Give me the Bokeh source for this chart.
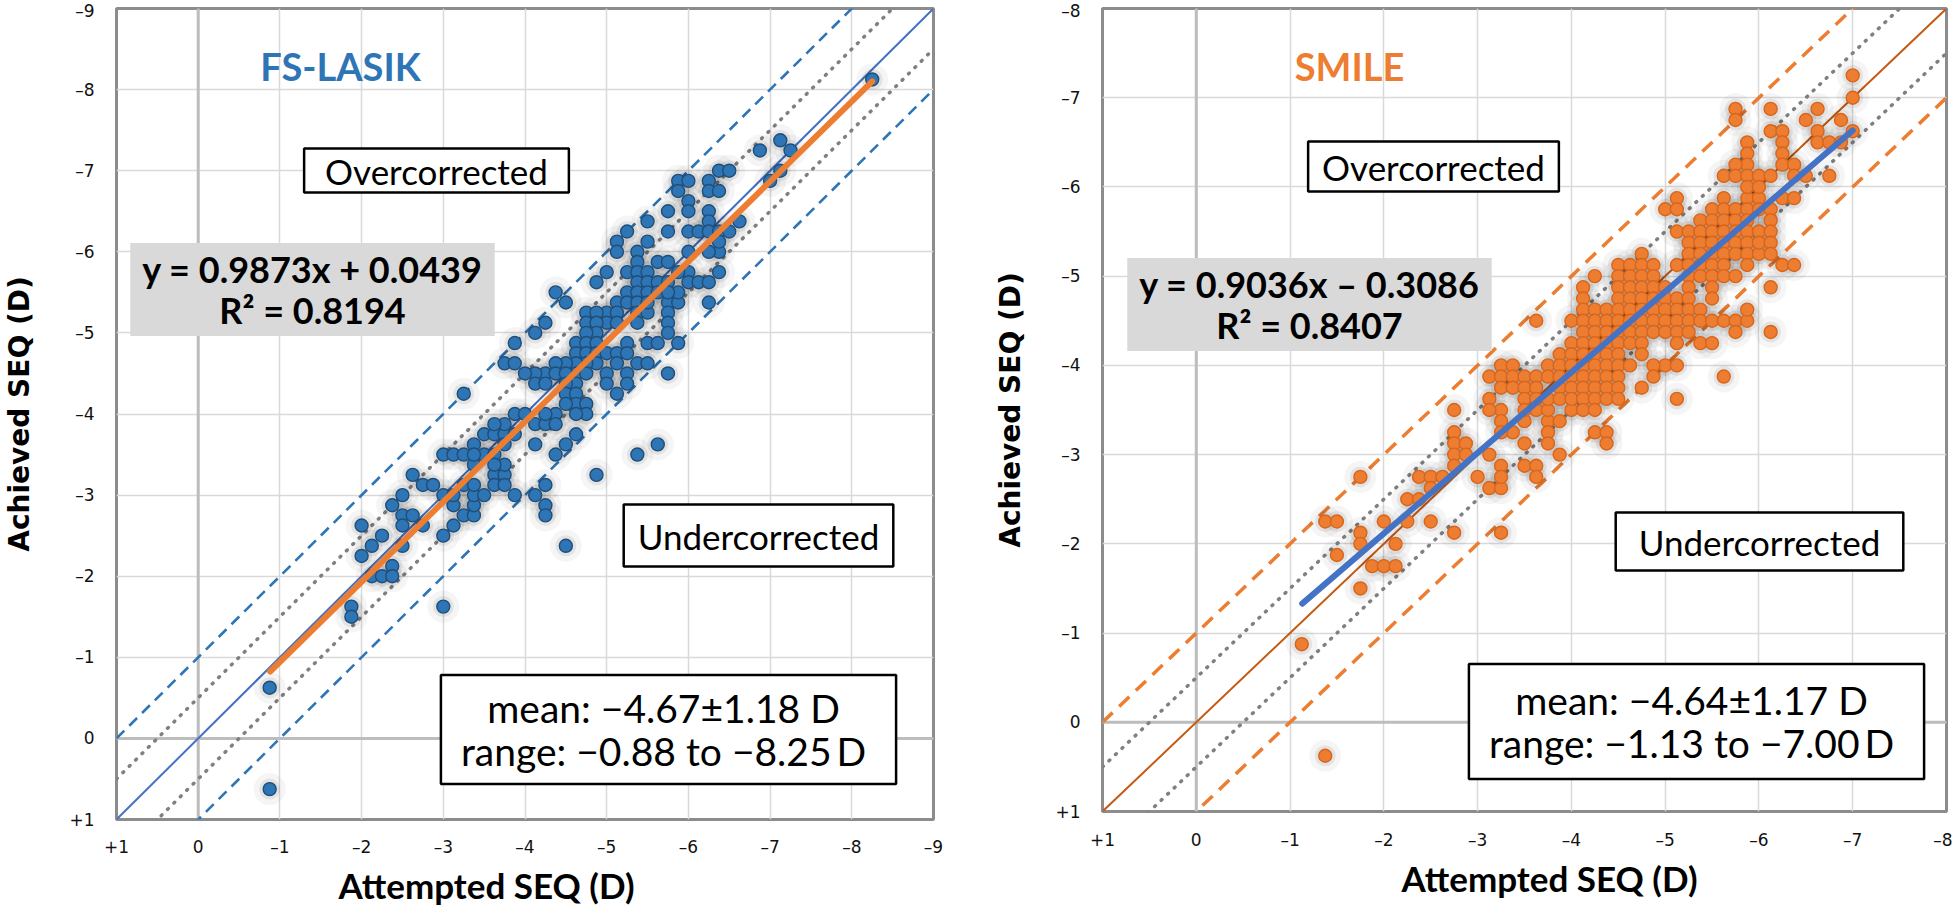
import math
from bokeh.plotting import figure
from bokeh.layouts import row
from bokeh.models import Range1d, FixedTicker, Span, Label, Title
from bokeh.embed import file_html
from bokeh.resources import INLINE

# ------------------------------------------------------------------ data
# FS-LASIK: (attempted SEQ, achieved SEQ) in D
lasik_points = [
    (-0.875, -0.625), (-0.875, 0.625), (-1.875, -1.625), (-1.875, -1.5), (-3.0, -1.625),
    (-2.0, -2.625), (-2.25, -2.5), (-2.125, -2.375), (-2.0, -2.25), (-2.375, -2.125),
    (-2.125, -2.0), (-2.25, -2.0), (-2.375, -2.0), (-2.5, -2.375), (-2.375, -2.875),
    (-2.5, -2.75), (-2.625, -2.75), (-2.5, -2.625), (-2.75, -2.625), (-2.5, -3.0),
    (-2.625, -3.25), (-2.75, -3.125), (-2.875, -3.125), (-3.0, -2.5), (-3.125, -2.625),
    (-3.125, -2.875), (-3.0, -3.0), (-3.25, -2.75), (-3.375, -2.75), (-3.375, -2.875),
    (-3.375, -3.0), (-3.5, -3.0), (-3.25, -3.125), (-3.375, -3.125), (-3.625, -3.25),
    (-3.75, -3.25), (-3.625, -3.125), (-3.75, -3.125), (-3.75, -3.375), (-3.875, -3.0),
    (-4.125, -3.0), (-4.25, -3.125), (-4.25, -2.875), (-4.25, -2.75), (-3.0, -3.5),
    (-3.125, -3.5), (-3.25, -3.5), (-3.375, -3.375), (-3.5, -3.5), (-3.625, -3.5),
    (-4.125, -3.625), (-3.375, -3.625), (-3.5, -3.75), (-3.625, -3.75), (-3.75, -3.75),
    (-3.875, -3.75), (-3.75, -3.625), (-4.875, -3.25), (-5.375, -3.5), (-4.5, -2.375),
    (-4.375, -3.5), (-5.75, -4.5), (-6.25, -5.375), (-6.375, -5.75), (-4.375, -5.5),
    (-4.5, -5.375), (-4.125, -5.0), (-4.25, -5.125), (-3.875, -4.875), (-3.25, -4.25),
    (-3.75, -4.625), (-3.875, -4.625),
    (-8.25, -8.125), (-6.875, -7.25), (-7.125, -7.375), (-7.25, -7.25), (-7.125, -7.0),
    (-7.0, -6.875), (-6.375, -7.0), (-6.5, -7.0), (-5.875, -6.875), (-6.0, -6.875),
    (-5.875, -6.75), (-6.25, -6.875), (-6.25, -6.75), (-6.375, -6.75), (-6.0, -6.625),
    (-6.0, -6.5), (-5.75, -6.5), (-6.25, -6.5), (-6.25, -6.375), (-5.5, -6.375),
    (-5.25, -6.25), (-5.75, -6.25), (-6.0, -6.25), (-6.125, -6.25), (-6.25, -6.25),
    (-6.375, -6.25), (-6.5, -6.25), (-6.625, -6.375), (-5.125, -6.125), (-5.5, -6.125),
    (-5.125, -6.0), (-5.375, -6.0), (-6.0, -6.0), (-6.375, -6.0), (-6.375, -6.125),
    (-5.0, -5.75), (-5.25, -5.75), (-5.375, -5.875), (-5.375, -5.75), (-5.5, -5.75),
    (-5.625, -5.875), (-5.75, -5.875), (-6.0, -5.75), (-6.375, -5.75), (-5.375, -5.625),
    (-5.5, -5.625), (-5.625, -5.625), (-5.75, -5.625), (-6.0, -5.625), (-6.125, -5.625),
    (-6.25, -5.625), (-5.25, -5.5), (-5.375, -5.5), (-5.5, -5.5), (-5.625, -5.5),
    (-5.125, -5.375), (-5.25, -5.375), (-5.375, -5.375), (-5.75, -5.375), (-5.875, -5.375),
    (-6.25, -5.375), (-5.0, -5.25), (-5.125, -5.25), (-5.375, -5.25), (-5.5, -5.25),
    (-5.75, -5.25), (-5.0, -5.125), (-5.125, -5.125), (-5.375, -5.125), (-5.75, -5.125),
    (-5.75, -5.0), (-5.25, -4.875), (-5.5, -4.875), (-5.625, -4.875), (-5.875, -4.875),
    (-6.0, -6.625), (-6.25, -6.5), (-5.75, -6.5), (-5.5, -6.375), (-6.25, -6.375),
    (-5.25, -6.25), (-5.5, -6.125), (-5.375, -5.875), (-5.875, -5.75), (-5.875, -5.5),
    (-5.75, -5.5), (-5.0, -5.75), (-4.875, -5.625), (-4.75, -5.25), (-4.75, -5.125),
    (-4.875, -5.25), (-5.0, -5.25), (-4.875, -5.125), (-4.875, -5.0), (-4.75, -5.0),
    (-4.625, -4.875), (-4.625, -4.75), (-4.75, -4.875), (-4.75, -4.75), (-4.875, -4.875),
    (-4.875, -4.75), (-4.875, -4.625), (-4.75, -4.625), (-4.625, -4.625), (-4.625, -4.5),
    (-4.75, -4.5), (-4.625, -4.375), (-4.5, -4.625), (-4.375, -4.625), (-4.25, -4.5),
    (-4.125, -4.5), (-4.0, -4.5), (-4.125, -4.375), (-4.25, -4.375), (-4.375, -4.5),
    (-4.5, -4.5), (-4.5, -4.375), (-4.5, -4.25), (-4.625, -4.25), (-4.625, -4.125),
    (-4.75, -4.125), (-4.5, -4.125), (-4.75, -4.0), (-4.625, -4.0), (-4.375, -4.0),
    (-5.0, -4.75), (-5.0, -4.5), (-5.0, -4.375), (-5.125, -4.25), (-5.25, -4.5),
    (-5.25, -4.375), (-5.125, -4.75), (-5.125, -4.625), (-5.25, -4.75), (-5.375, -4.625),
    (-5.5, -4.625), (-4.375, -5.5), (-4.25, -5.125), (-4.125, -5.0), (-3.875, -4.875),
    (-3.75, -4.625), (-3.875, -4.0), (-4.0, -4.0), (-4.125, -3.875), (-4.25, -3.875),
    (-4.375, -3.875), (-4.25, -4.0), (-3.75, -3.875), (-3.625, -3.875), (-3.5, -3.75),
    (-3.625, -3.75), (-3.375, -3.5), (-3.625, -3.375), (-3.75, -3.375), (-3.625, -3.25),
    (-3.875, -3.0), (-4.125, -3.625), (-4.375, -3.5), (-4.5, -3.625), (-4.625, -3.75),
    (-5.375, -3.5), (-5.625, -3.625), (-5.75, -4.5), (-4.875, -3.25), (-2.625, -3.25),
    (-2.75, -3.125), (-3.125, -3.0), (-3.375, -3.0), (-4.25, -2.875), (-4.25, -2.75),
    (-2.625, -2.75), (-3.25, -2.75), (-3.125, -2.875), (-3.5, -3.0), (-6.125, -6.25),
    (-6.25, -6.0), (-6.0, -5.75), (-5.125, -5.375), (-5.25, -5.375), (-5.5, -5.375),
    (-5.625, -5.875), (-5.625, -5.625), (-5.375, -5.625),
]

# SMILE: (attempted SEQ, achieved SEQ) in D
smile_points = [
    (-1.125, -0.875), (-1.375, 0.375), (-1.75, -1.5), (-1.75, -2.75), (-1.375, -2.25),
    (-1.5, -2.25), (-1.5, -1.875), (-1.75, -2.125), (-1.75, -2.0), (-2.0, -2.25),
    (-1.875, -1.75), (-2.0, -1.75), (-2.125, -1.75), (-2.125, -2.0), (-2.25, -2.25),
    (-2.5, -2.25), (-2.75, -2.125), (-3.25, -2.125), (-2.25, -2.5), (-2.375, -2.5),
    (-2.375, -2.75), (-2.5, -2.75), (-2.625, -2.75), (-2.5, -2.625), (-2.75, -3.25),
    (-2.75, -3.125), (-2.75, -3.0), (-2.75, -2.875), (-2.875, -3.125), (-2.875, -3.0),
    (-2.75, -3.5), (-3.0, -2.75), (-3.125, -3.0), (-3.125, -2.625), (-3.25, -2.625),
    (-3.25, -2.875), (-3.25, -2.75), (-3.5, -3.125), (-3.5, -2.875), (-3.625, -2.875),
    (-3.625, -2.75), (-3.875, -3.0), (-3.75, -3.375), (-3.75, -3.25), (-3.75, -3.125),
    (-3.875, -3.375), (-3.5, -3.375), (-3.125, -3.625), (-3.25, -3.5), (-3.25, -3.375),
    (-3.375, -3.25), (-3.625, -3.5), (-3.75, -3.5), (-4.0, -3.5),
    # middle block
    (-5.125, -5.875), (-5.625, -5.875), (-5.875, -5.875), (-6.0, -5.875),
    (-5.0, -5.75), (-5.125, -5.75), (-5.5, -5.75), (-5.625, -5.75), (-5.75, -5.75),
    (-5.875, -5.75), (-6.0, -5.75),
    (-5.375, -5.625), (-5.5, -5.625), (-5.625, -5.625), (-5.75, -5.625), (-5.875, -5.625),
    (-5.125, -5.5), (-5.25, -5.5), (-5.375, -5.5), (-5.5, -5.5), (-5.625, -5.5),
    (-5.75, -5.5), (-5.875, -5.5), (-6.0, -5.5),
    (-5.25, -5.375), (-5.375, -5.375), (-5.5, -5.375), (-5.625, -5.375), (-5.75, -5.375),
    (-5.875, -5.375),
    (-4.75, -5.25), (-5.25, -5.25), (-5.375, -5.25), (-5.5, -5.25), (-5.625, -5.25),
    (-5.75, -5.25), (-5.875, -5.25), (-6.0, -5.25),
    (-4.5, -5.125), (-4.625, -5.125), (-4.75, -5.125), (-4.875, -5.125), (-5.125, -5.125),
    (-5.25, -5.125), (-5.375, -5.125), (-5.5, -5.125), (-5.625, -5.125), (-5.875, -5.125),
    (-4.25, -5.0), (-4.5, -5.0), (-4.625, -5.0), (-4.75, -5.0), (-4.875, -5.0),
    (-5.25, -5.0), (-5.375, -5.0), (-5.5, -5.0), (-5.625, -5.0), (-5.75, -5.0),
    (-4.125, -4.875), (-4.5, -4.875), (-4.625, -4.875), (-4.75, -4.875), (-4.875, -4.875),
    (-5.0, -4.875), (-5.25, -4.875), (-5.5, -4.875),
    (-4.125, -4.75), (-4.5, -4.75), (-4.625, -4.75), (-4.75, -4.75), (-4.875, -4.75),
    (-5.0, -4.75), (-5.125, -4.75), (-5.25, -4.75), (-5.5, -4.75),
    # lower block
    (-4.125, -4.625), (-4.25, -4.625), (-4.375, -4.625), (-4.5, -4.625), (-4.625, -4.625),
    (-4.75, -4.625), (-4.875, -4.625), (-5.0, -4.625), (-5.125, -4.625), (-5.25, -4.625),
    (-5.375, -4.625),
    (-3.625, -4.5), (-4.0, -4.5), (-4.125, -4.5), (-4.25, -4.5), (-4.375, -4.5),
    (-4.5, -4.5), (-4.625, -4.5), (-4.75, -4.5), (-4.875, -4.5), (-5.0, -4.5),
    (-5.125, -4.5), (-5.25, -4.5), (-5.375, -4.5), (-5.5, -4.5), (-5.625, -4.5),
    (-5.75, -4.5), (-5.875, -4.5),
    (-4.125, -4.375), (-4.25, -4.375), (-4.375, -4.375), (-4.5, -4.375), (-4.625, -4.375),
    (-4.75, -4.375), (-4.875, -4.375), (-5.0, -4.375), (-5.125, -4.375), (-5.25, -4.375),
    (-5.75, -4.375),
    (-4.0, -4.25), (-4.125, -4.25), (-4.25, -4.25), (-4.375, -4.25), (-4.5, -4.25),
    (-4.625, -4.25), (-4.75, -4.25), (-5.125, -4.25), (-5.375, -4.25), (-5.5, -4.25),
    (-3.875, -4.125), (-4.0, -4.125), (-4.125, -4.125), (-4.25, -4.125), (-4.375, -4.125),
    (-4.5, -4.125), (-4.75, -4.125),
    (-3.25, -4.0), (-3.375, -4.0), (-3.75, -4.0), (-3.875, -4.0), (-4.0, -4.0),
    (-4.125, -4.0), (-4.25, -4.0), (-4.375, -4.0), (-4.5, -4.0), (-4.625, -4.0),
    (-5.0, -4.0), (-5.125, -4.0), (-4.875, -4.0),
    (-3.125, -3.875), (-3.25, -3.875), (-3.375, -3.875), (-3.5, -3.875), (-3.625, -3.875),
    (-3.75, -3.875), (-3.875, -3.875), (-4.0, -3.875), (-4.125, -3.875), (-4.25, -3.875),
    (-4.375, -3.875), (-4.5, -3.875), (-4.875, -3.875), (-5.625, -3.875),
    (-3.25, -3.75), (-3.375, -3.75), (-3.5, -3.75), (-3.625, -3.75), (-3.875, -3.75),
    (-4.0, -3.75), (-4.125, -3.75), (-4.25, -3.75), (-4.375, -3.75), (-4.5, -3.75),
    (-4.75, -3.75),
    (-3.125, -3.625), (-3.5, -3.625), (-3.625, -3.625), (-3.75, -3.625), (-3.875, -3.625),
    (-4.0, -3.625), (-4.125, -3.625), (-4.25, -3.625), (-4.375, -3.625), (-4.5, -3.625),
    (-5.125, -3.625),
    (-2.75, -3.5), (-3.125, -3.5), (-3.25, -3.5), (-3.5, -3.5), (-3.625, -3.5),
    (-3.75, -3.5), (-4.0, -3.5), (-4.125, -3.5), (-4.25, -3.5),
    (-3.25, -3.375), (-3.5, -3.375), (-3.75, -3.375),
    (-2.75, -3.25), (-3.25, -3.25), (-3.375, -3.25), (-3.75, -3.25), (-4.25, -3.25),
    (-4.375, -3.25),
    (-2.75, -3.125), (-2.875, -3.125), (-3.5, -3.125), (-3.75, -3.125), (-4.375, -3.125),
    (-2.75, -3.0), (-2.875, -3.0), (-3.125, -3.0), (-3.875, -3.0),
    (-2.75, -2.875), (-3.25, -2.875), (-3.5, -2.875), (-3.625, -2.875),
    (-3.0, -2.75), (-3.25, -2.75), (-3.625, -2.75),
    # upper block
    (-7.0, -7.25), (-7.0, -7.0), (-7.0, -6.625), (-5.75, -6.875), (-5.75, -6.75),
    (-6.125, -6.875), (-6.625, -6.875), (-6.5, -6.75), (-6.875, -6.75), (-6.125, -6.625),
    (-6.25, -6.625), (-6.625, -6.625), (-6.625, -6.5), (-6.75, -6.5), (-6.875, -6.5),
    (-6.25, -6.5), (-6.25, -6.375), (-6.25, -6.25), (-5.875, -6.5), (-5.875, -6.375),
    (-5.875, -6.25), (-5.75, -6.25), (-6.375, -6.25),
    (-5.625, -6.125), (-5.75, -6.125), (-5.875, -6.125), (-6.0, -6.125), (-6.125, -6.125),
    (-6.375, -6.125), (-6.5, -6.125), (-6.75, -6.125),
    (-5.875, -6.0), (-6.0, -6.0), (-6.25, -5.875), (-6.375, -5.875), (-6.125, -5.75),
    (-6.125, -5.625), (-6.125, -5.5), (-6.0, -5.375), (-6.125, -5.375), (-6.125, -5.25),
    (-6.25, -5.125), (-6.375, -5.125), (-6.125, -4.875), (-6.125, -4.375),
    (-5.875, -4.625), (-5.5, -5.0),
]

lasik_fit = [0.9873, 0.0439, 0.8194]      # slope, intercept, R²
lasik_span = [-0.88, -8.25]                # attempted range (D)
lasik_stats = [-4.67, 1.18]                # mean, SD (D)
smile_fit = [0.9036, -0.3086, 0.8407]
smile_span = [-1.13, -7.00]
smile_stats = [-4.64, 1.17]

band_offsets = [-1.0, -0.5, 0.0, 0.5, 1.0]  # reference lines y = x + offset

# ------------------------------------------------------------------ helpers
def uniq(pts):
    return list(dict.fromkeys(pts))


def fmt_tick(t):
    if t > 0:
        return "+%d" % t
    if t == 0:
        return "0"
    return "\u2013%d" % abs(t)


def fmt_signed(v):
    return ("\u2212%.2f" % abs(v)) if v < 0 else ("%.2f" % v)


GRID = "#d9d9d9"


def make_panel(g, pts, fit, span, stats, name, c_pts, c_pts_line, c_ident, c_dash,
               c_reg, dash, dash_w, boxes, titles):
    xmin = g["lo"]
    ticks = list(range(1, xmin - 1, -1))
    p = figure(frame_width=g["fw"], frame_height=g["fh"],
               x_range=Range1d(1, xmin), y_range=Range1d(1, xmin),
               min_border_left=g["bl"], min_border_right=g["br"],
               min_border_top=g["bt"], min_border_bottom=g["bb"],
               output_backend="svg", toolbar_location=None)
    p.background_fill_color = "white"
    p.border_fill_color = "white"
    p.outline_line_color = "#8c8c8c"
    p.outline_line_width = 3

    for ax, standoff in ((p.xaxis[0], g["xs"]), (p.yaxis[0], g["ys"])):
        ax.ticker = FixedTicker(ticks=ticks)
        ax.major_label_overrides = {t: fmt_tick(t) for t in ticks}
        ax.major_tick_line_color = None
        ax.minor_tick_line_color = None
        ax.major_tick_out = 0
        ax.major_tick_in = 0
        ax.axis_line_color = None
        ax.major_label_text_font = "DejaVu Sans"
        ax.major_label_text_font_size = "17px"
        ax.major_label_text_color = "#111111"
        ax.major_label_standoff = standoff
    for gr in (p.xgrid[0], p.ygrid[0]):
        gr.ticker = FixedTicker(ticks=ticks)
        gr.grid_line_color = GRID
        gr.grid_line_width = 1.5

    # y-axis title
    p.yaxis.axis_label = "Achieved SEQ (D)"
    p.yaxis.axis_label_text_font = "DejaVu Sans"
    p.yaxis.axis_label_text_font_style = "bold"
    p.yaxis.axis_label_text_font_size = "28px"
    p.yaxis.axis_label_text_color = "black"
    p.yaxis.axis_label_standoff = g["yts"]

    # x-axis title, placed along the axis as in the original
    p.add_layout(Title(text="Attempted SEQ (D)", align="left", offset=g["xto"],
                       text_font="Lato", text_font_style="bold", text_font_size="35px",
                       text_color="black", standoff=g["xts"]), "below")

    for dim in ("height", "width"):
        p.add_layout(Span(location=0, dimension=dim, line_color="#bdbdbd",
                          line_width=3, level="underlay"))

    ends = [1, xmin]
    for off in band_offsets:
        ys = [e + off for e in ends]
        if off == 0:
            p.line(ends, ys, line_color=c_ident, line_width=2)
        elif abs(off) == 0.5:
            p.line(ends, ys, line_color="#808080", line_width=3.5,
                   line_dash="1 8", line_cap="round")
        else:
            p.line(ends, ys, line_color=c_dash, line_width=dash_w, line_dash=dash)

    pts = uniq(pts)
    xs = [a for a, b in pts]
    ys = [b for a, b in pts]
    # soft grey glow behind the markers
    p.scatter(xs, ys, size=32, fill_color="black", fill_alpha=0.04, line_color=None)
    p.scatter(xs, ys, size=21, fill_color="black", fill_alpha=0.07, line_color=None)
    p.scatter(xs, ys, size=13, fill_color=c_pts, line_color=c_pts_line, line_width=1.4)

    rx = list(span)
    ry = [fit[0] * v + fit[1] for v in rx]
    p.line(rx, ry, line_color=c_reg, line_width=6, line_cap="round")

    def dpos(px, py):
        x = 1 - (px - g["fx"]) / g["fw"] * (1 - xmin)
        y = xmin + (py - g["fy"]) / g["fh"] * (1 - xmin)
        return x, y

    sign = "+" if fit[1] >= 0 else "\u2013"
    eq = "y = %.4fx %s %.4f\nR\u00b2 = %.4f" % (fit[0], sign, abs(fit[1]), fit[2])
    st = "mean:  %s\u00b1%.2f D\nrange:  %s to %s\u2009D" % (
        fmt_signed(stats[0]), stats[1], fmt_signed(span[0]), fmt_signed(span[1]))

    specs = [
        ("over", "Overcorrected", dict(text_font="Lato", text_font_size="35px",
                                        background_fill_color="white",
                                        border_line_color="black", border_line_width=2.5)),
        ("under", "Undercorrected", dict(text_font="Lato", text_font_size="35px",
                                          background_fill_color="white",
                                          border_line_color="black", border_line_width=2.5)),
        ("eq", eq, dict(text_font="Lato", text_font_style="bold", text_font_size="36px",
                        background_fill_color="#d9d9d9", text_line_height=0.93)),
        ("stats", st, dict(text_font="Lato", text_font_size="39px",
                           background_fill_color="white", text_line_height=0.93,
                           border_line_color="black", border_line_width=2.5)),
    ]
    for key, text, kw in specs:
        (px, py), pad = boxes[key]
        x, y = dpos(px, py)
        p.add_layout(Label(x=x, y=y, text=text, text_align="center",
                           text_baseline="middle", text_color="black",
                           padding=pad, **kw))

    (px, py), col = titles["name"]
    x, y = dpos(px, py)
    p.add_layout(Label(x=x, y=y, text=name, text_align="center", text_baseline="middle",
                       text_font="Lato", text_font_style="bold", text_font_size="38px",
                       text_color=col))
    return p


# frame geometry (pixels of the page) and borders
left_geom = dict(lo=-9, fx=116, fy=10, fw=817, fh=811, bl=111, br=47, bt=8, bb=80,
                 xs=17, ys=22, yts=30, xto=222, xts=4)
right_geom = dict(lo=-8, fx=1102, fy=10, fw=844, fh=803, bl=122, br=6, bt=8, bb=88,
                  xs=18, ys=22, yts=25, xto=299, xts=4)

p1 = make_panel(
    left_geom, lasik_points, lasik_fit, lasik_span, lasik_stats, "FS-LASIK",
    "#2E75B6", "#1F4E79", "#4472C4", "#2E75B6", "#ED7D31", "11 7", 2.6,
    boxes=dict(over=((436, 172), (21, 1)), under=((758, 537), (14, 10)),
               eq=((312, 291), (12, 4)), stats=((668, 731), (20, 10))),
    titles=dict(name=((340, 67), "#2E75B6")))

p2 = make_panel(
    right_geom, smile_points, smile_fit, smile_span, smile_stats, "SMILE",
    "#ED7D31", "#D9651A", "#C55A11", "#ED7D31", "#4472C4", "14 9", 3.5,
    boxes=dict(over=((1433, 168), (14, 4)), under=((1759, 543), (23, 8)),
               eq=((1309, 306), (12, 4)), stats=((1696, 723), (20, 13))),
    titles=dict(name=((1349, 67), "#ED7D31")))

layout = row(p1, p2)
open("out.html", "w").write(file_html(layout, INLINE))
